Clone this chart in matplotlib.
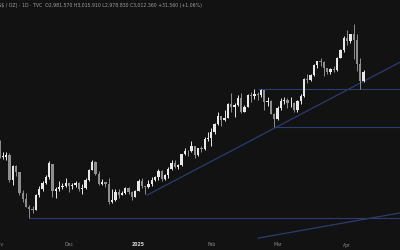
import matplotlib
matplotlib.use("Agg")
import matplotlib.pyplot as plt
import numpy as np

# daily candles, Oct 31 2024 .. Apr 8 2025 (trading days only)
dates = ["Oct31", "Nov1", "Nov4", "Nov5", "Nov6", "Nov7", "Nov8", "Nov11", "Nov12", "Nov13",
         "Nov14", "Nov15", "Nov18", "Nov19", "Nov20", "Nov21", "Nov22", "Nov25", "Nov26", "Nov27",
         "Nov28", "Nov29", "Dec2", "Dec3", "Dec4", "Dec5", "Dec6", "Dec9", "Dec10", "Dec11",
         "Dec12", "Dec13", "Dec16", "Dec17", "Dec18", "Dec19", "Dec20", "Dec23", "Dec24", "Dec26",
         "Dec27", "Dec30", "Dec31", "Jan2", "Jan3", "Jan6", "Jan7", "Jan8", "Jan9", "Jan10",
         "Jan13", "Jan14", "Jan15", "Jan16", "Jan17", "Jan20", "Jan21", "Jan22", "Jan23", "Jan24",
         "Jan27", "Jan28", "Jan29", "Jan30", "Jan31", "Feb3", "Feb4", "Feb5", "Feb6", "Feb7",
         "Feb10", "Feb11", "Feb12", "Feb13", "Feb14", "Feb17", "Feb18", "Feb19", "Feb20", "Feb21",
         "Feb24", "Feb25", "Feb26", "Feb27", "Feb28", "Mar3", "Mar4", "Mar5", "Mar6", "Mar7",
         "Mar10", "Mar11", "Mar12", "Mar13", "Mar14", "Mar17", "Mar18", "Mar19", "Mar20", "Mar21",
         "Mar24", "Mar25", "Mar26", "Mar27", "Mar28", "Mar31", "Apr1", "Apr2", "Apr3", "Apr4",
         "Apr7", "Apr8"]
opens = [2788, 2743, 2736, 2736, 2742, 2659, 2706, 2685, 2618, 2598,
         2572, 2565, 2562, 2611, 2631, 2650, 2670, 2712, 2625, 2632,
         2636, 2640, 2650, 2639, 2643, 2650, 2632, 2633, 2660, 2694,
         2718, 2680, 2648, 2652, 2646, 2587, 2594, 2622, 2612, 2617,
         2634, 2621, 2606, 2624, 2658, 2640, 2636, 2648, 2661, 2669,
         2690, 2662, 2677, 2697, 2715, 2702, 2708, 2745, 2755, 2754,
         2770, 2740, 2763, 2760, 2794, 2798, 2815, 2842, 2867, 2856,
         2861, 2908, 2898, 2904, 2928, 2882, 2898, 2935, 2933, 2939,
         2936, 2951, 2914, 2916, 2875, 2857, 2893, 2918, 2920, 2910,
         2910, 2889, 2916, 2934, 2988, 2984, 3001, 3034, 3048, 3044,
         3023, 3011, 3020, 3019, 3056, 3084, 3123, 3113, 3133, 3114,
         3037, 2982]
highs = [2790, 2790, 2750, 2750, 2749, 2710, 2709, 2685, 2627, 2618,
         2578, 2574, 2615, 2639, 2656, 2675, 2721, 2712, 2637, 2656,
         2649, 2665, 2650, 2651, 2657, 2654, 2646, 2667, 2696, 2726,
         2721, 2688, 2662, 2655, 2665, 2632, 2630, 2630, 2623, 2638,
         2637, 2625, 2627, 2664, 2665, 2642, 2660, 2670, 2674, 2697,
         2692, 2679, 2703, 2725, 2725, 2712, 2746, 2763, 2759, 2786,
         2772, 2765, 2771, 2799, 2817, 2830, 2845, 2882, 2869, 2887,
         2911, 2942, 2910, 2935, 2942, 2905, 2939, 2947, 2955, 2945,
         2956, 2953, 2930, 2919, 2877, 2900, 2928, 2930, 2925, 2930,
         2915, 2921, 2940, 2990, 3005, 3003, 3038, 3047, 3057, 3047,
         3025, 3023, 3032, 3060, 3087, 3128, 3149, 3136, 3167, 3136,
         3055, 3016]
lows = [2730, 2733, 2728, 2725, 2652, 2643, 2673, 2610, 2589, 2572,
        2536, 2554, 2561, 2605, 2623, 2647, 2664, 2605, 2603, 2624,
        2631, 2636, 2622, 2630, 2636, 2625, 2614, 2630, 2656, 2691,
        2675, 2643, 2643, 2638, 2583, 2584, 2592, 2603, 2611, 2616,
        2615, 2596, 2604, 2624, 2635, 2614, 2633, 2642, 2656, 2659,
        2657, 2660, 2668, 2694, 2700, 2696, 2706, 2741, 2737, 2750,
        2730, 2737, 2751, 2759, 2786, 2772, 2808, 2839, 2834, 2853,
        2860, 2880, 2864, 2900, 2878, 2880, 2896, 2915, 2923, 2920,
        2930, 2889, 2902, 2874, 2832, 2856, 2887, 2907, 2895, 2897,
        2880, 2881, 2906, 2930, 2975, 2982, 2999, 3025, 3029, 2999,
        3003, 3006, 3012, 3015, 3055, 3076, 3100, 3104, 3054, 3015,
        2956, 2979]
closes = [2743, 2736, 2736, 2742, 2659, 2706, 2685, 2618, 2598, 2572,
          2565, 2562, 2611, 2631, 2650, 2670, 2716, 2625, 2632, 2636,
          2640, 2650, 2639, 2643, 2650, 2632, 2633, 2660, 2694, 2718,
          2680, 2648, 2652, 2646, 2587, 2594, 2622, 2612, 2617, 2634,
          2621, 2606, 2624, 2658, 2640, 2636, 2648, 2661, 2669, 2690,
          2662, 2677, 2697, 2715, 2702, 2708, 2745, 2755, 2754, 2770,
          2740, 2763, 2760, 2794, 2798, 2815, 2842, 2867, 2856, 2861,
          2908, 2898, 2904, 2928, 2882, 2898, 2935, 2933, 2939, 2936,
          2951, 2914, 2916, 2875, 2857, 2893, 2918, 2920, 2910, 2910,
          2889, 2916, 2934, 2988, 2984, 3001, 3034, 3048, 3044, 3023,
          3011, 3020, 3019, 3056, 3084, 3123, 3113, 3133, 3114, 3037,
          2982, 3012]

# month labels (bar index of first trading day)
month_idx = [1, 22, 43, 65, 85, 106]
month_lbl = ["Nov", "Dec", "2025", "Feb", "Mar", "Apr"]

# drawn levels: price, starting bar
levels = [2956, 2832, 2536]
level_start = [79, 84, 10]
# trendlines (bar index, price)
trend1_x = [45.6, 122.0]
trend1_y = [2611, 3043]
trend2_x = [79.1, 122.0]
trend2_y = [2471, 2553]

header = "US$ / OZ) \u00b7 1D \u00b7 TVC  O2,981.570 H3,015.910 L2,978.830 C3,012.360 +31.560 (+1.06%)"

bg = "#121212"
up_col = "#e8e8e8"
dn_col = "#8e8e8e"
line_col = "#2c3b70"

fig = plt.figure(figsize=(4, 2.5), dpi=100, facecolor=bg)
ax = fig.add_axes([0, 0, 1, 1])
ax.set_facecolor(bg)

x = np.arange(len(closes))
o = np.array(opens, float)
c = np.array(closes, float)
h = np.array(highs, float)
l = np.array(lows, float)
cols = [up_col if cc >= oo else dn_col for oo, cc in zip(o, c)]

ax.vlines(x, l, h, colors=cols, linewidth=0.7, zorder=3)
body = np.maximum(np.abs(c - o), 1.5)
ax.bar(x, body, bottom=np.minimum(o, c), width=0.7, color=cols, linewidth=0, zorder=4)

for lv, st in zip(levels, level_start):
    ax.hlines(lv, st, 125, colors=line_col, linewidth=0.8, zorder=2)
ax.plot(trend1_x, trend1_y, color=line_col, linewidth=0.9, zorder=2)
ax.plot(trend2_x, trend2_y, color=line_col, linewidth=0.9, zorder=2)

ax.set_xlim(1.15, 122.0)
ax.set_ylim(2432.5, 3245)
ax.axis("off")

tr = ax.get_xaxis_transform()
for i, lb in zip(month_idx, month_lbl):
    if lb == "2025":
        ax.text(i, 0.02, lb, transform=tr, ha="center", va="center",
                fontsize=3.3, color="#d8d8d8", fontweight="bold")
    else:
        ax.text(i, 0.02, lb, transform=tr, ha="center", va="center",
                fontsize=3.3, color="#8a8a8a")

fig.text(-0.012, 0.978, header, ha="left", va="center", fontsize=3.3, color="#a0a0a0")

fig.savefig("out.png", dpi=100, facecolor=bg)
